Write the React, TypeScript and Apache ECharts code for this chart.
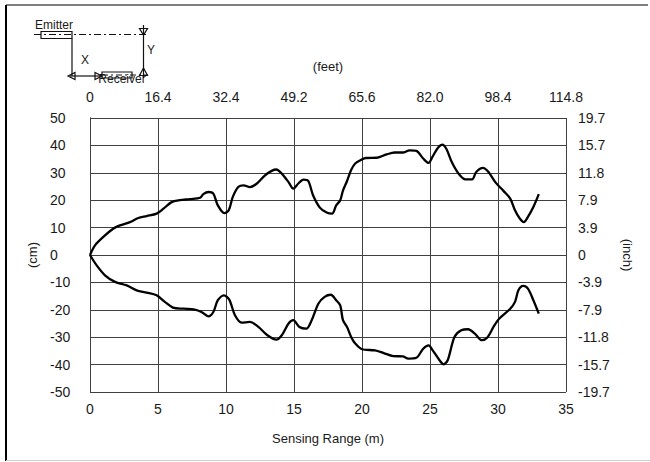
import React, { useEffect, useRef } from "react";
import * as echarts from "echarts";

const rangeTicks = [0, 5, 10, 15, 20, 25, 30, 35];
const feetLabels = ["0", "16.4", "32.4", "49.2", "65.6", "82.0", "98.4", "114.8"];
const cmTicks = [-50, -40, -30, -20, -10, 0, 10, 20, 30, 40, 50];
const inchLabels = ["-19.7", "-15.7", "-11.8", "-7.9", "-3.9", "0", "3.9", "7.9", "11.8", "15.7", "19.7"];

const upperRange = [0, 0.37, 0.98, 1.7, 2.2, 2.94, 3.55, 4.17, 4.9, 5.4, 6.0, 6.6, 7.35, 8.1, 8.33, 8.7, 9.07, 9.4, 9.88, 10.2, 10.5, 10.9, 11.3, 11.76, 12.25, 12.87, 13.36, 13.7, 14.1, 14.6, 14.95, 15.3, 15.7, 16.05, 16.4, 16.9, 17.4, 17.8, 18.1, 18.4, 18.6, 18.9, 19.2, 19.5, 20.0, 20.3, 21.1, 21.8, 22.4, 23.0, 23.5, 24.0, 24.5, 24.9, 25.2, 25.6, 25.9, 26.2, 26.6, 27.1, 27.6, 28.1, 28.4, 28.9, 29.3, 29.8, 30.4, 30.9, 31.25, 31.6, 31.9, 32.2, 32.6, 33.0];
const upperOffset = [0, 3.5, 6.6, 9.6, 10.8, 12, 13.5, 14.2, 15.1, 16.9, 19.3, 20, 20.4, 20.9, 22.2, 23, 22.4, 18.1, 15.3, 16.3, 21.2, 24.8, 25.4, 24.8, 26, 29.1, 30.7, 31.2, 29.7, 26.6, 24.2, 26, 27.5, 27, 21.8, 17.3, 15.5, 15.1, 18.1, 20, 23.5, 27, 31, 33.4, 34.9, 35.4, 35.5, 36.7, 37.4, 37.4, 38.2, 38, 35.2, 33.6, 36, 39.2, 40.3, 38.8, 33.9, 29.7, 27.6, 27.6, 30.3, 31.8, 30.3, 26.6, 23.4, 20.6, 16.3, 13.3, 12, 13.9, 17.5, 22.2];

const lowerRange = [0, 0.49, 1.1, 1.84, 2.7, 3.43, 4.17, 4.9, 5.5, 6.1, 6.86, 7.7, 8.2, 8.7, 9.07, 9.4, 9.85, 10.24, 10.66, 11.15, 11.76, 12.4, 13.0, 13.7, 14.1, 14.6, 14.95, 15.4, 15.9, 16.3, 16.8, 17.25, 17.7, 18.1, 18.4, 18.6, 18.9, 19.2, 19.5, 20.0, 20.96, 21.6, 22.3, 23.0, 23.4, 24.0, 24.5, 24.9, 25.2, 25.7, 26.0, 26.3, 26.8, 27.3, 27.8, 28.3, 28.8, 29.2, 29.7, 30.1, 30.9, 31.25, 31.5, 31.85, 32.2, 32.6, 33.0];
const lowerOffset = [0, -3.8, -7.4, -9.8, -11.1, -12.9, -13.7, -14.7, -17.1, -19.2, -19.6, -19.9, -20.8, -22.4, -20.8, -16.5, -14.7, -16.3, -22, -24.7, -24.4, -26.3, -29.1, -30.9, -29.3, -25, -23.8, -26.3, -26.9, -23.8, -17.7, -15.3, -14.5, -16.5, -18.4, -23.8, -26.3, -29.9, -32.3, -34.4, -34.8, -35.8, -36.9, -37, -37.8, -37.5, -34.2, -33, -34.8, -38.4, -39.9, -38.4, -29.9, -27.5, -27.1, -28.7, -31.1, -30.2, -26, -23.2, -19.6, -17.1, -12.9, -11.3, -12.3, -16.5, -21.4];

const FONT = '"Liberation Sans", Arial, Helvetica, sans-serif';
const TXT = "#1a1a1a";
const GRID = "#404040";

export default function App() {
  const ref = useRef<HTMLDivElement>(null);
  useEffect(() => {
    document.body.style.margin = "0";
    const chart = echarts.init(ref.current!, null, { renderer: "svg" });
    const upper = upperRange.map((x, i) => [x, upperOffset[i]]);
    const lower = lowerRange.map((x, i) => [x, lowerOffset[i]]);
    const axisLine = { show: true, lineStyle: { color: GRID, width: 1 } };
    const split = { show: true, lineStyle: { color: GRID, width: 1 } };
    const lbl = { color: TXT, fontSize: 14, fontFamily: FONT };
    const nameStyle = { color: TXT, fontSize: 13, fontFamily: FONT };
    const diag = "#111";
    const option: any = {
      animation: false,
      backgroundColor: "#ffffff",
      grid: { left: 90, top: 118, width: 476, height: 274, containLabel: false },
      xAxis: [
        {
          type: "value", position: "bottom", min: 0, max: 35, interval: 5,
          axisLine, axisTick: { show: false }, splitLine: split,
          axisLabel: { ...lbl, margin: 10, formatter: (v: number) => String(rangeTicks[rangeTicks.indexOf(v)] ?? v) },
          name: "Sensing Range (m)", nameLocation: "middle", nameGap: 40, nameTextStyle: nameStyle,
        },
        {
          type: "value", position: "top", min: 0, max: 35, interval: 5,
          axisLine, axisTick: { show: false }, splitLine: { show: false },
          axisLabel: { ...lbl, margin: 14, formatter: (v: number) => feetLabels[rangeTicks.indexOf(v)] ?? "" },
          name: "(feet)", nameLocation: "middle", nameGap: 45, nameTextStyle: nameStyle,
        },
      ],
      yAxis: [
        {
          type: "value", position: "left", min: -50, max: 50, interval: 10,
          axisLine, axisTick: { show: false }, splitLine: split,
          axisLabel: { ...lbl, margin: 40, align: "left", formatter: (v: number) => String(cmTicks[cmTicks.indexOf(v)] ?? v) },
          name: "(cm)", nameLocation: "middle", nameGap: 50, nameRotate: 90, nameTextStyle: nameStyle,
        },
        {
          type: "value", position: "right", min: -50, max: 50, interval: 10,
          axisLine, axisTick: { show: false }, splitLine: { show: false },
          axisLabel: { ...lbl, margin: 12, align: "left", formatter: (v: number) => inchLabels[cmTicks.indexOf(v)] ?? "" },
          name: "(inch)", nameLocation: "middle", nameGap: 51, nameRotate: -90, nameTextStyle: nameStyle,
        },
      ],
      series: [
        {
          type: "line", data: upper, xAxisIndex: 0, yAxisIndex: 0, showSymbol: false, smooth: 0.3,
          lineStyle: { color: "#000", width: 2.3 },
        },
        {
          type: "line", data: lower, xAxisIndex: 0, yAxisIndex: 0, showSymbol: false, smooth: 0.3,
          lineStyle: { color: "#000", width: 2.3 },
        },
      ],
      graphic: [
        { type: "line", shape: { x1: 6, y1: 5, x2: 648, y2: 5 }, style: { stroke: "#555", lineWidth: 1.5 } },
        { type: "line", shape: { x1: 6, y1: 5, x2: 6, y2: 461 }, style: { stroke: "#000", lineWidth: 2 } },
        { type: "line", shape: { x1: 6, y1: 460.5, x2: 650, y2: 460.5 }, style: { stroke: "#ccc", lineWidth: 1 } },
        // emitter
        { type: "text", x: 54, y: 25, style: { text: "Emitter", fontSize: 12, fontFamily: FONT, fill: TXT, align: "center", verticalAlign: "middle" } },
        { type: "line", shape: { x1: 34, y1: 34.5, x2: 147, y2: 34.5 }, style: { stroke: diag, lineWidth: 1, lineDash: [7, 3, 2, 3] } },
        { type: "rect", shape: { x: 41, y: 31.5, width: 31, height: 7 }, style: { fill: "none", stroke: diag, lineWidth: 1.2 } },
        { type: "line", shape: { x1: 72, y1: 38.5, x2: 72, y2: 76 }, style: { stroke: diag, lineWidth: 1.2 } },
        { type: "line", shape: { x1: 70, y1: 76, x2: 102, y2: 76 }, style: { stroke: diag, lineWidth: 1.2 } },
        { type: "polygon", shape: { points: [[68, 76], [75, 72.5], [75, 79.5]] }, style: { fill: "none", stroke: diag, lineWidth: 1.2 } },
        { type: "polygon", shape: { points: [[102, 76], [95, 72.5], [95, 79.5]] }, style: { fill: "none", stroke: diag, lineWidth: 1.2 } },
        { type: "text", x: 85, y: 60, style: { text: "X", fontSize: 12, fontFamily: FONT, fill: TXT, align: "center", verticalAlign: "middle" } },
        // receiver
        { type: "rect", shape: { x: 102, y: 72, width: 30, height: 6 }, style: { fill: "none", stroke: diag, lineWidth: 1.2 } },
        { type: "line", shape: { x1: 102, y1: 75, x2: 148, y2: 75 }, style: { stroke: diag, lineWidth: 1, lineDash: [6, 3, 2, 3] } },
        { type: "text", x: 122, y: 79, style: { text: "Receiver", fontSize: 12, fontFamily: FONT, fill: TXT, align: "center", verticalAlign: "middle" } },
        // Y marker
        { type: "line", shape: { x1: 143.5, y1: 25, x2: 143.5, y2: 78 }, style: { stroke: diag, lineWidth: 1.2 } },
        { type: "polygon", shape: { points: [[139.5, 28.5], [147.5, 28.5], [143.5, 35]] }, style: { fill: "none", stroke: diag, lineWidth: 1.2 } },
        { type: "polygon", shape: { points: [[139.5, 75.5], [147.5, 75.5], [143.5, 68]] }, style: { fill: "none", stroke: diag, lineWidth: 1.2 } },
        { type: "text", x: 151, y: 50, style: { text: "Y", fontSize: 12, fontFamily: FONT, fill: TXT, align: "center", verticalAlign: "middle" } },
      ],
    };
    chart.setOption(option);
    return () => chart.dispose();
  }, []);
  return <div ref={ref} style={{ position: "fixed", left: 0, top: 0, width: 650, height: 462 }} />;
}
